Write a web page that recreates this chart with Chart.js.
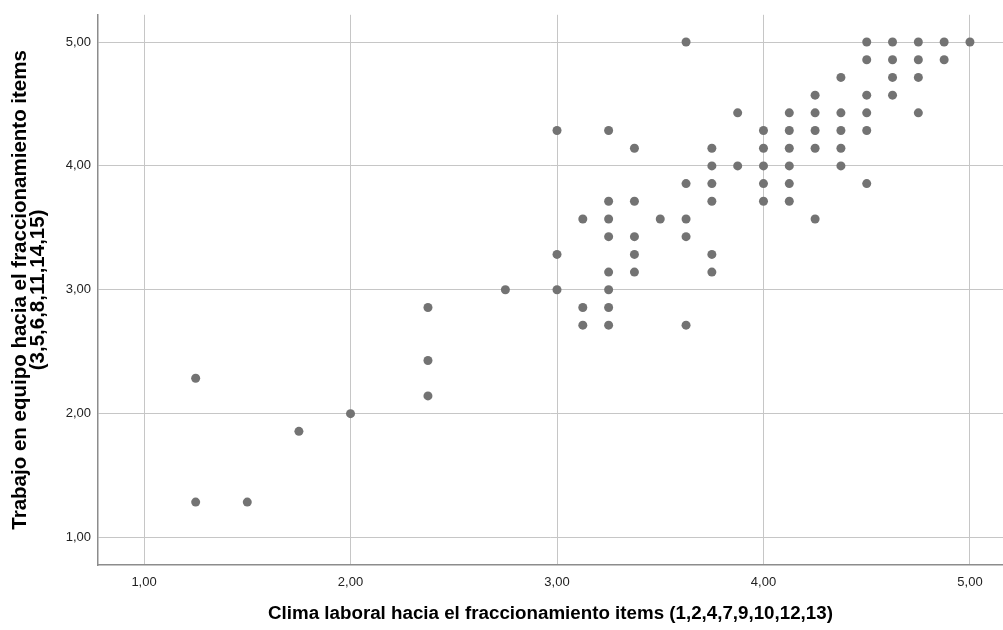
<!DOCTYPE html>
<html>
<head>
<meta charset="utf-8">
<title>Clima laboral vs Trabajo en equipo</title>
<script src="https://cdn.jsdelivr.net/npm/chart.js@4.4.1/dist/chart.umd.min.js"></script>
<style>
    html, body { margin: 0; padding: 0; background: #fff; }
    #wrap { width: 1003px; height: 630px; position: relative; }
</style>
</head>
<body>
<div id="wrap"><canvas id="chart-scatter"></canvas></div>
<script>
// Axis titles
const xTitle = 'Clima laboral hacia el fraccionamiento items (1,2,4,7,9,10,12,13)';
const yTitle = ['Trabajo en equipo hacia el fraccionamiento items', '(3,5,6,8,11,14,15)'];

// Tick values and their labels (same for both axes)
const tickValues = [1, 2, 3, 4, 5];
const tickLabels = ['1,00', '2,00', '3,00', '4,00', '5,00'];

// Clima laboral (x) per respondent
const climaValues = [
    1.25, 1.25, 1.5, 1.75, 2.0, 2.375, 2.375, 2.375, 2.75,
    3.625, 4.5, 4.625, 4.75, 4.875, 5.0,
    4.5, 4.625, 4.75, 4.875,
    4.375, 4.625, 4.75,
    4.25, 4.5, 4.625,
    3.875, 4.125, 4.25, 4.375, 4.5, 4.75,
    3.0, 3.25, 4.0, 4.125, 4.25, 4.375, 4.5,
    3.375, 3.75, 4.0, 4.125, 4.25, 4.375,
    3.75, 3.875, 4.0, 4.125, 4.375,
    3.625, 3.75, 4.0, 4.125, 4.5,
    3.25, 3.375, 3.75, 4.0, 4.125,
    3.125, 3.25, 3.5, 3.625, 4.25,
    3.25, 3.375, 3.625,
    3.0, 3.375, 3.75,
    3.25, 3.375, 3.75,
    3.0, 3.25,
    3.125, 3.25,
    3.125, 3.25, 3.625
];

// Trabajo en equipo (y) per respondent
const equipoValues = [
    2.2857, 1.2857, 1.2857, 1.8571, 2.0, 2.8571, 2.4286, 2.1429, 3.0,
    5.0, 5.0, 5.0, 5.0, 5.0, 5.0,
    4.8571, 4.8571, 4.8571, 4.8571,
    4.7143, 4.7143, 4.7143,
    4.5714, 4.5714, 4.5714,
    4.4286, 4.4286, 4.4286, 4.4286, 4.4286, 4.4286,
    4.2857, 4.2857, 4.2857, 4.2857, 4.2857, 4.2857, 4.2857,
    4.1429, 4.1429, 4.1429, 4.1429, 4.1429, 4.1429,
    4.0, 4.0, 4.0, 4.0, 4.0,
    3.8571, 3.8571, 3.8571, 3.8571, 3.8571,
    3.7143, 3.7143, 3.7143, 3.7143, 3.7143,
    3.5714, 3.5714, 3.5714, 3.5714, 3.5714,
    3.4286, 3.4286, 3.4286,
    3.2857, 3.2857, 3.2857,
    3.1429, 3.1429, 3.1429,
    3.0, 3.0,
    2.8571, 2.8571,
    2.7143, 2.7143, 2.7143
];

const FONT = '"Liberation Sans", Arial, Helvetica, sans-serif';
const GRID = '#c6c6c6';
const AXIS = '#8c8c8c';

/**
 * Fixed ticks at whole numbers, labelled with comma decimals
 */
function fixedTicks(scale) {
    scale.ticks = tickValues.map(v => ({ value: v }));
}

function tickLabel(value) {
    const i = tickValues.indexOf(value);
    return i >= 0 ? tickLabels[i] : '';
}

const points = climaValues.map((x, i) => ({ x: x, y: equipoValues[i] }));

const config = {
    type: 'scatter',
    data: {
        datasets: [{
            data: points,
            backgroundColor: '#737373',
            borderColor: '#737373',
            borderWidth: 0,
            pointRadius: 4.5,
            pointHoverRadius: 4.5
        }]
    },
    options: {
        responsive: true,
        maintainAspectRatio: false,
        animation: false,
        layout: {
            autoPadding: false,
            padding: { top: 14, right: 0, bottom: 0, left: 0 }
        },
        plugins: {
            legend: { display: false },
            tooltip: { enabled: false }
        },
        scales: {
            x: {
                type: 'linear',
                min: 0.777,
                max: 5.16,
                afterBuildTicks: fixedTicks,
                afterFit: function(scale) {
                    scale.height = 65;
                    // plot runs to the right edge of the picture
                    scale.paddingLeft = 0;
                    scale.paddingRight = 0;
                },
                grid: { color: GRID, lineWidth: 1, drawTicks: false },
                border: { display: true, color: AXIS, width: 1.5 },
                ticks: {
                    padding: 10,
                    color: '#222',
                    font: { family: FONT, size: 13 },
                    maxRotation: 0,
                    callback: tickLabel
                },
                title: {
                    display: true,
                    text: xTitle,
                    color: '#000',
                    font: { family: FONT, size: 18.75, weight: 'bold' },
                    padding: { top: 0, bottom: 5 }
                }
            },
            y: {
                type: 'linear',
                min: 0.778,
                max: 5.22,
                afterBuildTicks: fixedTicks,
                afterFit: function(scale) { scale.width = 98; },
                grid: { color: GRID, lineWidth: 1, drawTicks: false },
                border: { display: true, color: AXIS, width: 1.5 },
                ticks: {
                    padding: 7,
                    color: '#222',
                    font: { family: FONT, size: 13 },
                    callback: tickLabel
                },
                title: {
                    display: true,
                    text: yTitle,
                    color: '#000',
                    font: { family: FONT, size: 20.5, weight: 'bold', lineHeight: '18px' },
                    padding: { top: 11, bottom: 0 }
                }
            }
        }
    }
};

new Chart(document.getElementById('chart-scatter'), config);
</script>
</body>
</html>
